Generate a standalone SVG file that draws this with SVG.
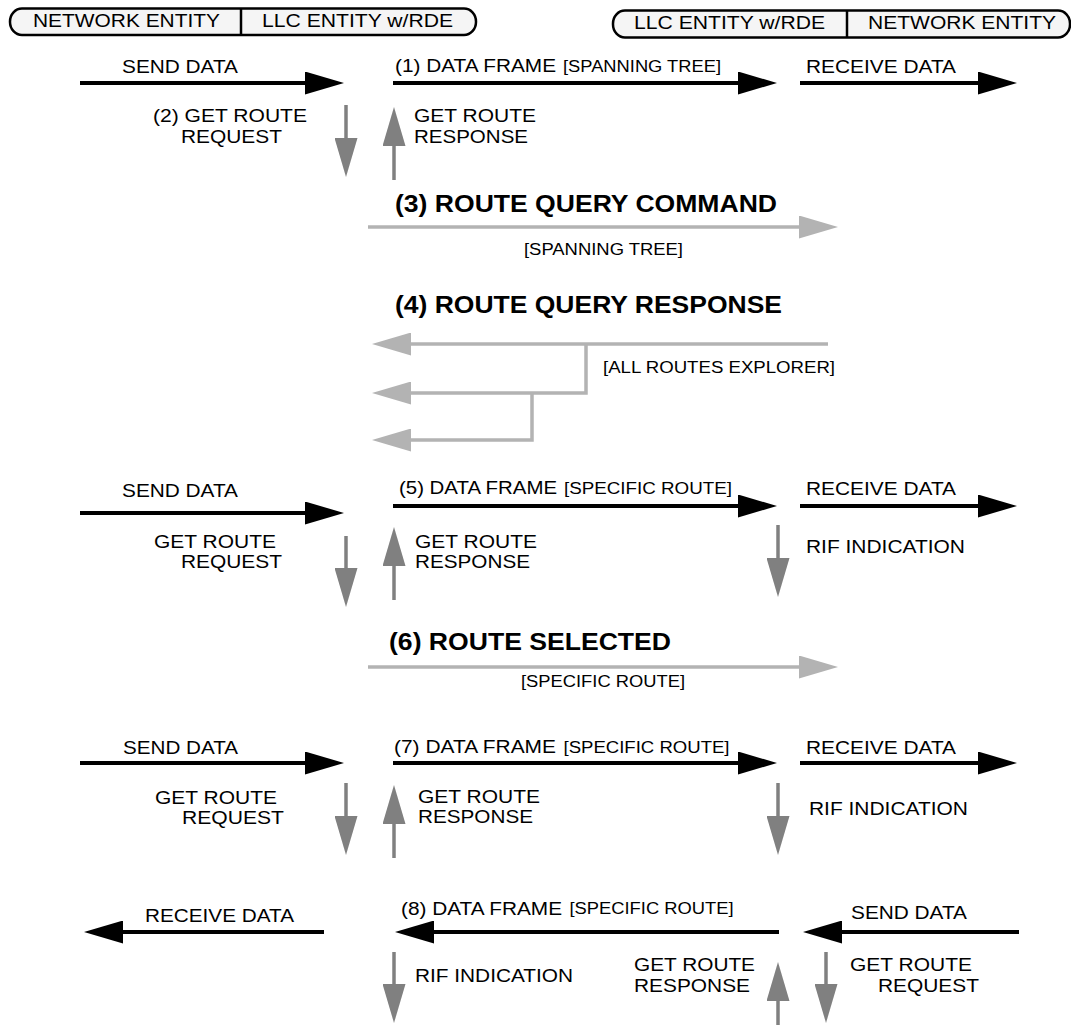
<svg xmlns="http://www.w3.org/2000/svg" width="1071" height="1025" viewBox="0 0 1071 1025">
<style>
.t{font-family:"Liberation Sans",Arial,Helvetica,sans-serif;font-size:18px;fill:#000}
.s{font-size:16px}
.b{font-weight:bold;font-size:23.5px}
.pill{fill:#f5f5f5;stroke:#000;stroke-width:2.5}
.div{stroke:#000;stroke-width:2.5}
.blk{fill:none;stroke:#000;stroke-width:4;marker-end:url(#ah-b)}
.dg{fill:none;stroke:#808080;stroke-width:3.5;marker-end:url(#ah-d)}
.lg{fill:none;stroke:#b3b3b3;stroke-width:3.5;marker-end:url(#ah-l)}
</style>
<defs>
<marker id="ah-b" markerUnits="userSpaceOnUse" markerWidth="39" markerHeight="23" viewBox="0 0 39 23" refX="20" refY="11.5" orient="auto"><path d="M0,0 L39,11.5 L0,23 Z" fill="#000"/></marker>
<marker id="ah-d" markerUnits="userSpaceOnUse" markerWidth="39" markerHeight="23" viewBox="0 0 39 23" refX="20" refY="11.5" orient="auto"><path d="M0,0 L39,11.5 L0,23 Z" fill="#808080"/></marker>
<marker id="ah-l" markerUnits="userSpaceOnUse" markerWidth="39" markerHeight="23" viewBox="0 0 39 23" refX="20" refY="11.5" orient="auto"><path d="M0,0 L39,11.5 L0,23 Z" fill="#b3b3b3"/></marker>
</defs>
<rect width="1071" height="1025" fill="#fff"/>

<g id="header-left">
<rect class="pill" x="10" y="8.5" width="466" height="26.5" rx="12" ry="13"/>
<line class="div" x1="241" y1="8.5" x2="241" y2="35"/>
<text class="t" x="33" y="27" textLength="187" lengthAdjust="spacingAndGlyphs">NETWORK ENTITY</text>
<text class="t" x="262" y="27" textLength="191" lengthAdjust="spacingAndGlyphs">LLC ENTITY w/RDE</text>
</g>

<g id="header-right">
<rect class="pill" x="613" y="10.5" width="457" height="27" rx="12" ry="13"/>
<line class="div" x1="847" y1="10.5" x2="847" y2="37.5"/>
<text class="t" x="634" y="29" textLength="191" lengthAdjust="spacingAndGlyphs">LLC ENTITY w/RDE</text>
<text class="t" x="868" y="29" textLength="188" lengthAdjust="spacingAndGlyphs">NETWORK ENTITY</text>
</g>

<g id="connectors">
<path class="blk" d="M80,83 H325"/>
<path class="blk" d="M393,83 H758"/>
<path class="blk" d="M800,83 H998"/>
<path class="dg" d="M346,105 V158"/>
<path class="dg" d="M394,180 V126"/>
<path class="lg" d="M368,227 H819"/>
<path class="lg" d="M828,344 H391"/>
<path class="lg" d="M586,344 V393 H391"/>
<path class="lg" d="M532,393 V440 H391"/>
<path class="blk" d="M80,513 H325"/>
<path class="blk" d="M393,506 H758"/>
<path class="blk" d="M800,506 H998"/>
<path class="dg" d="M346,536 V588"/>
<path class="dg" d="M394,600 V546"/>
<path class="dg" d="M778,525 V578"/>
<path class="lg" d="M368,667 H819"/>
<path class="blk" d="M80,763 H325"/>
<path class="blk" d="M393,763 H758"/>
<path class="blk" d="M800,763 H998"/>
<path class="dg" d="M346,783 V836"/>
<path class="dg" d="M394,858 V804"/>
<path class="dg" d="M778,783 V836"/>
<path class="blk" d="M324,932 H103"/>
<path class="blk" d="M779,932 H414"/>
<path class="blk" d="M1019,932 H822"/>
<path class="dg" d="M394,952 V1004"/>
<path class="dg" d="M778,1030 V981"/>
<path class="dg" d="M826,952 V1004"/>
</g>

<g id="labels-1">
<text class="t" x="122" y="73" textLength="116" lengthAdjust="spacingAndGlyphs">SEND DATA</text>
<text class="t" x="395" y="72" textLength="161" lengthAdjust="spacingAndGlyphs">(1) DATA FRAME</text>
<text class="t s" x="563" y="72" textLength="158" lengthAdjust="spacingAndGlyphs">[SPANNING TREE]</text>
<text class="t" x="806" y="72.5" textLength="150" lengthAdjust="spacingAndGlyphs">RECEIVE DATA</text>
<text class="t" x="153" y="122" textLength="154" lengthAdjust="spacingAndGlyphs">(2) GET ROUTE</text>
<text class="t" x="181" y="143" textLength="101" lengthAdjust="spacingAndGlyphs">REQUEST</text>
<text class="t" x="414" y="122" textLength="122" lengthAdjust="spacingAndGlyphs">GET ROUTE</text>
<text class="t" x="414" y="143" textLength="114" lengthAdjust="spacingAndGlyphs">RESPONSE</text>
</g>

<g id="labels-3-4">
<text class="t b" x="395" y="212" textLength="382" lengthAdjust="spacingAndGlyphs">(3) ROUTE QUERY COMMAND</text>
<text class="t s" x="524" y="255" textLength="159" lengthAdjust="spacingAndGlyphs">[SPANNING TREE]</text>
<text class="t b" x="395" y="313" textLength="387" lengthAdjust="spacingAndGlyphs">(4) ROUTE QUERY RESPONSE</text>
<text class="t s" x="603" y="373" textLength="232" lengthAdjust="spacingAndGlyphs">[ALL ROUTES EXPLORER]</text>
</g>

<g id="labels-5-6">
<text class="t" x="122" y="497" textLength="116" lengthAdjust="spacingAndGlyphs">SEND DATA</text>
<text class="t" x="399" y="494" textLength="158" lengthAdjust="spacingAndGlyphs">(5) DATA FRAME</text>
<text class="t s" x="564" y="494" textLength="168" lengthAdjust="spacingAndGlyphs">[SPECIFIC ROUTE]</text>
<text class="t" x="806" y="495" textLength="150" lengthAdjust="spacingAndGlyphs">RECEIVE DATA</text>
<text class="t" x="154" y="548" textLength="122" lengthAdjust="spacingAndGlyphs">GET ROUTE</text>
<text class="t" x="181" y="568" textLength="101" lengthAdjust="spacingAndGlyphs">REQUEST</text>
<text class="t" x="415" y="548" textLength="122" lengthAdjust="spacingAndGlyphs">GET ROUTE</text>
<text class="t" x="415" y="568" textLength="115" lengthAdjust="spacingAndGlyphs">RESPONSE</text>
<text class="t" x="806" y="553" textLength="159" lengthAdjust="spacingAndGlyphs">RIF INDICATION</text>
<text class="t b" x="389" y="650" textLength="282" lengthAdjust="spacingAndGlyphs">(6) ROUTE SELECTED</text>
<text class="t s" x="521" y="687" textLength="164" lengthAdjust="spacingAndGlyphs">[SPECIFIC ROUTE]</text>
</g>

<g id="labels-7">
<text class="t" x="123" y="754" textLength="115" lengthAdjust="spacingAndGlyphs">SEND DATA</text>
<text class="t" x="394" y="753" textLength="162" lengthAdjust="spacingAndGlyphs">(7) DATA FRAME</text>
<text class="t s" x="563.5" y="753" textLength="166" lengthAdjust="spacingAndGlyphs">[SPECIFIC ROUTE]</text>
<text class="t" x="806" y="754" textLength="150" lengthAdjust="spacingAndGlyphs">RECEIVE DATA</text>
<text class="t" x="155" y="804" textLength="122" lengthAdjust="spacingAndGlyphs">GET ROUTE</text>
<text class="t" x="182" y="824" textLength="102" lengthAdjust="spacingAndGlyphs">REQUEST</text>
<text class="t" x="418" y="803" textLength="122" lengthAdjust="spacingAndGlyphs">GET ROUTE</text>
<text class="t" x="418" y="823" textLength="115" lengthAdjust="spacingAndGlyphs">RESPONSE</text>
<text class="t" x="809" y="815" textLength="159" lengthAdjust="spacingAndGlyphs">RIF INDICATION</text>
</g>

<g id="labels-8">
<text class="t" x="145" y="922" textLength="149" lengthAdjust="spacingAndGlyphs">RECEIVE DATA</text>
<text class="t" x="401" y="915" textLength="161" lengthAdjust="spacingAndGlyphs">(8) DATA FRAME</text>
<text class="t s" x="569.5" y="914" textLength="164" lengthAdjust="spacingAndGlyphs">[SPECIFIC ROUTE]</text>
<text class="t" x="851" y="919" textLength="116" lengthAdjust="spacingAndGlyphs">SEND DATA</text>
<text class="t" x="415" y="982" textLength="158" lengthAdjust="spacingAndGlyphs">RIF INDICATION</text>
<text class="t" x="634" y="971" textLength="121" lengthAdjust="spacingAndGlyphs">GET ROUTE</text>
<text class="t" x="634" y="992" textLength="116" lengthAdjust="spacingAndGlyphs">RESPONSE</text>
<text class="t" x="850" y="971" textLength="122" lengthAdjust="spacingAndGlyphs">GET ROUTE</text>
<text class="t" x="878" y="992" textLength="101" lengthAdjust="spacingAndGlyphs">REQUEST</text>
</g>
</svg>
